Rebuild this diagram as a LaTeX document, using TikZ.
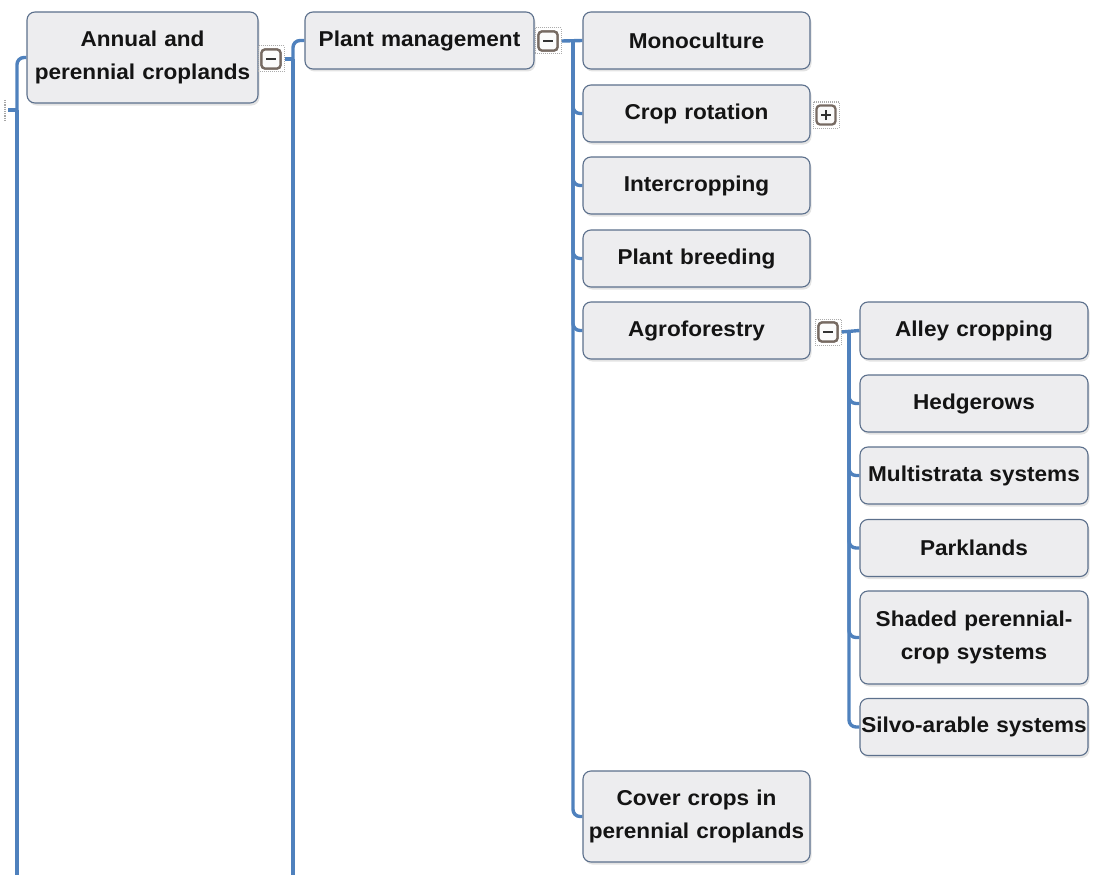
\documentclass[tikz,border=0pt]{standalone}
\usepackage{fontspec}
\setmainfont{Liberation Sans}[FakeStretch=1.05]
\usetikzlibrary{shadows}

\definecolor{linkc}{RGB}{79,129,189}
\definecolor{boxfill}{RGB}{237,237,239}
\definecolor{boxline}{RGB}{92,112,140}
\definecolor{togline}{RGB}{118,106,98}
\definecolor{txt}{RGB}{20,20,20}

\tikzset{
  topic/.style={draw=boxline, line width=1.1pt, fill=boxfill, rounded corners=8pt,
    minimum height=57pt, inner sep=0pt, align=center, text=txt,
    font=\bfseries\fontsize{21.5}{33}\selectfont,
    drop shadow={opacity=0.22, shadow xshift=1.5pt, shadow yshift=-2.5pt}},
  lvl1/.style={topic, minimum width=231pt, text width=229pt},
  lvl2/.style={topic, minimum width=229pt, text width=227pt},
  lvl3/.style={topic, minimum width=227pt, text width=225pt},
  lvl4/.style={topic, minimum width=228pt, text width=226pt},
  link/.style={draw=linkc, line width=3.4pt, rounded corners=7pt},
  togframe/.style={draw=gray!65, densely dotted, line width=1pt, minimum size=26pt, inner sep=0pt},
  toggle/.style={draw=togline, line width=2.3pt, rounded corners=3.5pt, fill=white!97!gray,
    minimum size=19pt, inner sep=0pt},
  minus/.style={toggle, path picture={
      \draw[line width=2.8pt, black!80] ([xshift=-5pt]path picture bounding box.center)
        -- ([xshift=5pt]path picture bounding box.center);}},
  plus/.style={toggle, path picture={
      \draw[line width=2.4pt, black!80] ([xshift=-5pt]path picture bounding box.center)
        -- ([xshift=5pt]path picture bounding box.center);
      \draw[line width=2.4pt, black!80] ([yshift=-5pt]path picture bounding box.center)
        -- ([yshift=5pt]path picture bounding box.center);}},
}

\begin{document}
\begin{tikzpicture}[x=1pt, y=-1pt]
\useasboundingbox (0,0) rectangle (1101,875);

% ---- topic boxes ----
\node[lvl1, minimum height=91pt] (annual) at (142.5,57.5) {Annual and\\perennial croplands};
\node[lvl2] (pm) at (419.5,40.5) {Plant management};

\node[lvl3] (mono)   at (696.5,40.5)  {Monoculture};
\node[lvl3] (rot)    at (696.5,113.5) {Crop rotation};
\node[lvl3] (inter)  at (696.5,185.5) {Intercropping};
\node[lvl3] (breed)  at (696.5,258.5) {Plant breeding};
\node[lvl3] (agro)   at (696.5,330.5) {Agroforestry};
\node[lvl3, minimum height=91pt] (cover) at (696.5,816.5) {Cover crops in\\perennial croplands};

\node[lvl4] (alley)  at (974,330.5) {Alley cropping};
\node[lvl4] (hedge)  at (974,403.5) {Hedgerows};
\node[lvl4] (multi)  at (974,475.5) {Multistrata systems};
\node[lvl4] (park)   at (974,548)   {Parklands};
\node[lvl4, minimum height=93pt] (shaded) at (974,637.5) {Shaded perennial-\\crop systems};
\node[lvl4] (silvo)  at (974,727)   {Silvo-arable systems};

% ---- expand / collapse toggles ----
\node[togframe] (annualbf) at (271,59) {};
\node[minus]    (annualb)  at (271,59) {};
\node[togframe] (pmbf)     at (548,41) {};
\node[minus]    (pmb)      at (548,41) {};
\node[togframe] (rotbf)    at (826,115) {};
\node[plus]     (rotb)     at (826,115) {};
\node[togframe] (agrobf)   at (828,332) {};
\node[minus]    (agrob)    at (828,332) {};

% ---- branch points ----
\coordinate (rin)  at (8,110);
\coordinate (r0)   at (17,110);
\coordinate (rend) at (17,875);
\coordinate (a0)   at (293,59);
\coordinate (aend) at (293,875);
\coordinate (p0)   at (573,41);
\coordinate (g0)   at (849,332);

% ---- connectors ----
\draw[gray!70, densely dotted, line width=1.2pt] (5,100) -- (5,120);
\draw[link] (rin) -- (r0);
\draw[link] (r0) |- (annual.west);
\draw[link] (r0) -- (rend);

\draw[link] (annualbf.east) -- (a0);
\draw[link] (a0) |- (pm.west);
\draw[link] (a0) -- (aend);

\draw[link] (pmbf.east) -- (mono.west);
\draw[link] (p0) |- (rot.west);
\draw[link] (p0) |- (inter.west);
\draw[link] (p0) |- (breed.west);
\draw[link] (p0) |- (agro.west);
\draw[link] (p0) |- (cover.west);

\draw[link] (agrobf.east) -- (alley.west);
\draw[link] (g0) |- (hedge.west);
\draw[link] (g0) |- (multi.west);
\draw[link] (g0) |- (park.west);
\draw[link] (g0) |- (shaded.west);
\draw[link] (g0) |- (silvo.west);

% redraw toggles above the connector ends
\node[togframe] at (annualbf) {};
\node[minus]    at (annualb)  {};
\node[togframe] at (pmbf)     {};
\node[minus]    at (pmb)      {};
\node[togframe] at (agrobf)   {};
\node[minus]    at (agrob)    {};
\end{tikzpicture}
\end{document}
